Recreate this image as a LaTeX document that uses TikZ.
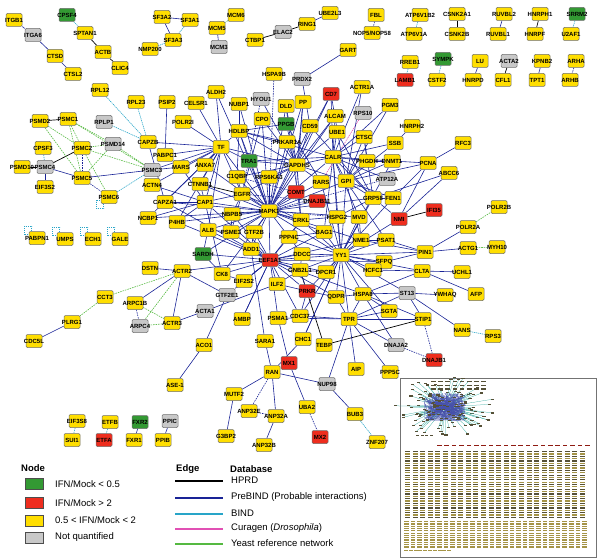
\documentclass[tikz,border=0pt]{standalone}
\usepackage{fontspec}
\setmainfont{Liberation Sans}
\usetikzlibrary{backgrounds}
\definecolor{nyel}{RGB}{255,222,0}
\definecolor{ngrn}{RGB}{51,153,51}
\definecolor{nred}{RGB}{238,45,30}
\definecolor{ngry}{RGB}{200,200,200}
\definecolor{nbrd}{RGB}{110,110,110}
\definecolor{epb}{RGB}{25,35,150}
\definecolor{ebd}{RGB}{40,165,200}
\definecolor{eye}{RGB}{85,185,65}
\definecolor{ecu}{RGB}{225,80,180}
\definecolor{olv}{RGB}{165,148,70}
\definecolor{dkl}{RGB}{85,80,55}
\tikzset{
 nb/.style={draw=nbrd, line width=0.5pt, rounded corners=1.2pt, minimum width=16pt, minimum height=13pt, inner sep=0pt,
   font=\fontsize{6}{6}\selectfont\bfseries,
   execute at begin node={\hbox to 0pt\bgroup\hss}, execute at end node={\hss\egroup}},
 yn/.style={nb, fill=nyel},
 gn/.style={nb, fill=ngrn},
 rn/.style={nb, fill=nred},
 qn/.style={nb, fill=ngry},
 hp/.style={black, line width=0.7pt},
 pb/.style={epb, line width=0.6pt},
 pbd/.style={epb, line width=0.6pt, dash pattern=on 1.5pt off 1pt},
 bd/.style={ebd, line width=0.6pt, dash pattern=on 1.2pt off 0.8pt},
 ye/.style={eye, line width=0.6pt, dash pattern=on 1.5pt off 1pt},
 cu/.style={ecu, line width=0.6pt, dash pattern=on 1.2pt off 0.8pt},
 legbox/.style={draw=nbrd!70!black, line width=0.6pt, minimum width=18pt, minimum height=11pt, inner sep=0pt},
 legtxt/.style={anchor=west, inner sep=0pt, font=\fontsize{9.5}{10}\selectfont},
 leghd/.style={anchor=west, inner sep=0pt, font=\fontsize{9.5}{10}\selectfont\bfseries},
 legln/.style={line width=2pt},
}
\begin{document}
\begin{tikzpicture}[x=1pt,y=-1pt]
\useasboundingbox (0,0) rectangle (600,559);
% ---------------- nodes: top rows ----------------
\node[yn] (itgb1) at (14,20) {ITGB1};
\node[qn] (itga6) at (33,35) {ITGA6};
\node[gn] (cpsf4) at (67,15) {CPSF4};
\node[yn] (sptan1) at (85,33) {SPTAN1};
\node[yn] (actb) at (103,52) {ACTB};
\node[yn] (clic4) at (120,68) {CLIC4};
\node[yn] (ctsd) at (55,56) {CTSD};
\node[yn] (ctsl2) at (73,74) {CTSL2};
\node[yn] (sf3a2) at (162,17) {SF3A2};
\node[yn] (sf3a1) at (190,20) {SF3A1};
\node[yn] (sf3a3) at (173,40) {SF3A3};
\node[yn] (nmp200) at (150,49) {NMP200};
\node[yn] (mcm6) at (236,15) {MCM6};
\node[yn] (mcm5) at (217,28) {MCM5};
\node[qn] (mcm3) at (219,47) {MCM3};
\node[yn] (ctbp1) at (255,40) {CTBP1};
\node[qn] (elac2) at (283,32) {ELAC2};
\node[yn] (ring1) at (307,24) {RING1};
\node[yn] (ube2l3) at (330,13) {UBE2L3};
\node[yn] (fbl) at (376,15) {FBL};
\node[yn] (nop) at (372,33) {NOP5/NOP58};
\node[yn] (gart) at (348,50) {GART};
\node[yn] (atp6v1b2) at (420,15) {ATP6V1B2};
\node[yn] (atp6v1a) at (414,34) {ATP6V1A};
\node[yn] (csnk2a1) at (457,14) {CSNK2A1};
\node[yn] (csnk2b) at (457,34) {CSNK2B};
\node[yn] (ruvbl2) at (504,14) {RUVBL2};
\node[yn] (ruvbl1) at (498,34) {RUVBL1};
\node[yn] (hnrph1) at (540,14) {HNRPH1};
\node[yn] (hnrpf) at (535,34) {HNRPF};
\node[gn] (srrm2) at (577,14) {SRRM2};
\node[yn] (u2af1) at (571,34) {U2AF1};
\node[yn] (rreb1) at (410,62) {RREB1};
\node[rn] (lamb1) at (405,80) {LAMB1};
\node[gn] (sympk) at (443,59) {SYMPK};
\node[yn] (cstf2) at (437,80) {CSTF2};
\node[yn] (lu) at (480,61) {LU};
\node[yn] (hnrpd) at (473,80) {HNRPD};
\node[qn] (acta2) at (509,61) {ACTA2};
\node[yn] (cfl1) at (503,80) {CFL1};
\node[yn] (kpnb2) at (542,61) {KPNB2};
\node[yn] (tpt1) at (537,80) {TPT1};
\node[yn] (arha) at (576,61) {ARHA};
\node[yn] (arhb) at (570,80) {ARHB};
% ---------------- upper middle ----------------
\node[yn] (hspa9b) at (274,74) {HSPA9B};
\node[qn] (prdx2) at (302,79) {PRDX2};
\node[rn] (cd7) at (331,94) {CD7};
\node[yn] (actr1a) at (362,87) {ACTR1A};
\node[yn] (aldh2) at (216,92) {ALDH2};
\node[yn] (nubp1) at (239,104) {NUBP1};
\node[qn] (hyou1) at (261,99) {HYOU1};
\node[yn] (dld) at (286,106) {DLD};
\node[yn] (pp) at (303,102) {PP};
\node[yn] (pgm3) at (390,105) {PGM3};
\node[yn] (cpo) at (262,119) {CPO};
\node[yn] (alcam) at (335,116) {ALCAM};
\node[qn] (rps10) at (363,113) {RPS10};
\node[gn] (ppgb) at (286,124) {PPGB};
\node[yn] (cd59) at (310,126) {CD59};
\node[yn] (hdlbp) at (239,131) {HDLBP};
\node[yn] (ube1) at (337,132) {UBE1};
\node[yn] (ctsc) at (364,137) {CTSC};
\node[yn] (ssb) at (395,143) {SSB};
\node[yn] (prkar1a) at (287,142) {PRKAR1A};
\node[yn] (tf) at (221,147) {TF};
\node[yn] (hnrph2) at (412,126) {HNRPH2};
\node[yn] (rfc3) at (463,143) {RFC3};
% ---------------- left cluster ----------------
\node[yn] (rpl12) at (100,90) {RPL12};
\node[yn] (rpl23) at (136,102) {RPL23};
\node[yn] (psip2) at (167,102) {PSIP2};
\node[yn] (celsr1) at (196,103) {CELSR1};
\node[yn] (polr2i) at (183,122) {POLR2I};
\node[qn] (rplp1) at (104,122) {RPLP1};
\node[yn] (psmc1) at (68,119) {PSMC1};
\node[yn] (psmd2) at (40,121) {PSMD2};
\node[qn] (psmd14) at (113,144) {PSMD14};
\node[yn] (capzb) at (148,142) {CAPZB};
\node[yn] (cpsf3) at (43,148) {CPSF3};
\node[yn] (psmc2) at (82,148) {PSMC2};
\node[yn] (psmd10) at (22,167) {PSMD10};
\node[qn] (psmc4) at (45,167) {PSMC4};
\node[yn] (eif3s2) at (45,187) {EIF3S2};
\node[yn] (psmc5) at (82,178) {PSMC5};
\node[yn] (psmc6) at (109,197) {PSMC6};
\node[qn] (psmc3) at (152,170) {PSMC3};
\node[yn] (pabpc1) at (165,155) {PABPC1};
\node[yn] (mars) at (181,167) {MARS};
\node[yn] (actn4) at (152,185) {ACTN4};
\node[yn] (capza1) at (165,202) {CAPZA1};
\node[yn] (ncbp1) at (148,218) {NCBP1};
\node[yn] (p4hb) at (177,222) {P4HB};
\node[yn] (pabpn1) at (37,238) {PABPN1};
\node[yn] (umps) at (65,239) {UMPS};
\node[yn] (ech1) at (93,239) {ECH1};
\node[yn] (gale) at (120,239) {GALE};
\node[yn] (dstn) at (150,268) {DSTN};
\node[yn] (actr2) at (182,271) {ACTR2};
\node[yn] (cct3) at (105,297) {CCT3};
\node[yn] (plrg1) at (72,322) {PLRG1};
\node[yn] (cdc5l) at (34,341) {CDC5L};
\node[yn] (arpc1b) at (135,303) {ARPC1B};
\node[qn] (arpc4) at (140,326) {ARPC4};
\node[yn] (actr3) at (172,323) {ACTR3};
\node[qn] (acta1) at (205,311) {ACTA1};
\node[yn] (aco1) at (204,345) {ACO1};
\node[yn] (ase1) at (175,385) {ASE-1};
\node[yn] (eif3s8) at (77,421) {EIF3S8};
\node[yn] (sui1) at (72,440) {SUI1};
\node[yn] (etfb) at (110,422) {ETFB};
\node[rn] (etfa) at (104,440) {ETFA};
\node[gn] (fxr2) at (140,422) {FXR2};
\node[yn] (fxr1) at (134,440) {FXR1};
\node[qn] (ppic) at (170,421) {PPIC};
\node[yn] (ppib) at (163,440) {PPIB};
% ---------------- centre ----------------
\node[yn] (anxa7) at (205,165) {ANXA7};
\node[yn] (ctnnb1) at (200,184) {CTNNB1};
\node[gn] (tra1) at (249,161) {TRA1};
\node[yn] (gapdh) at (297,165) {GAPDHS};
\node[yn] (calr) at (333,157) {CALR};
\node[yn] (phgdh) at (367,161) {PHGDH};
\node[yn] (dnmt1) at (392,161) {DNMT1};
\node[yn] (c1qbp) at (237,177) {C1QBP};
\node[yn] (rps6) at (269,177) {RPS6KA3};
\node[yn] (rars) at (321,182) {RARS};
\node[yn] (gpi) at (346,181) {GPI};
\node[qn] (atp12a) at (387,179) {ATP12A};
\node[yn] (egfr) at (242,194) {EGFR};
\node[yn] (cap1) at (205,202) {CAP1};
\node[rn] (comt) at (296,192) {COMT};
\node[rn] (dnajb11) at (317,201) {DNAJB11};
\node[yn] (mapk1) at (269,211) {MAPK1};
\node[yn] (grp58) at (373,198) {GRP58};
\node[yn] (fen1) at (393,198) {FEN1};
\node[yn] (nbpb5) at (232,214) {NBPB5};
\node[yn] (hspg2) at (337,217) {HSPG2};
\node[yn] (mvd) at (359,217) {MVD};
\node[yn] (crkl) at (301,220) {CRKL};
\node[rn] (nmi) at (399,219) {NMI};
\node[rn] (ifi35) at (434,210) {IFI35};
\node[yn] (alb) at (208,230) {ALB};
\node[yn] (psme3) at (231,232) {PSME3};
\node[yn] (gtf2b) at (254,232) {GTF2B};
\node[yn] (bag1) at (324,232) {BAG1};
\node[yn] (ppp4c) at (289,237) {PPP4C};
\node[yn] (nme1) at (361,240) {NME1};
\node[yn] (psat1) at (386,240) {PSAT1};
\node[yn] (add1) at (251,249) {ADD1};
\node[yn] (ddcc) at (302,254) {DDCC};
\node[gn] (sardh) at (203,254) {SARDH};
\node[rn] (eef1a1) at (270,260) {EEF1A1};
\node[yn] (yy1) at (341,255) {YY1};
\node[yn] (sfpq) at (384,262) {SFPQ};
\node[yn] (hcfc1) at (373,270) {HCFC1};
\node[yn] (gnb2l1) at (300,270) {GNB2L1};
\node[yn] (dpcr1) at (326,272) {DPCR1};
\node[yn] (ck8) at (222,274) {CK8};
\node[yn] (eif2s2) at (244,281) {EIF2S2};
\node[yn] (ilf2) at (277,284) {ILF2};
\node[rn] (prkr) at (307,291) {PRKR};
\node[qn] (gtf2e1) at (227,295) {GTF2E1};
\node[yn] (hspa8) at (363,294) {HSPA8};
\node[yn] (qdpr) at (336,297) {QDPR};
% ---------------- right ----------------
\node[yn] (pcna) at (428,163) {PCNA};
\node[yn] (abcc6) at (449,173) {ABCC6};
\node[yn] (polr2b) at (499,207) {POLR2B};
\node[yn] (polr2a) at (468,227) {POLR2A};
\node[yn] (actg1) at (468,248) {ACTG1};
\node[yn] (myh10) at (497,247) {MYH10};
\node[yn] (pin1) at (425,252) {PIN1};
\node[yn] (clta) at (422,271) {CLTA};
\node[yn] (uchl1) at (462,272) {UCHL1};
\node[qn] (st13) at (407,293) {ST13};
\node[yn] (ywhaq) at (445,295) {YWHAQ};
\node[yn] (afp) at (476,294) {AFP};
\node[yn] (stip1) at (423,319) {STIP1};
\node[yn] (nans) at (462,330) {NANS};
\node[yn] (rps3) at (493,336) {RPS3};
\node[qn] (dnaja2) at (396,345) {DNAJA2};
\node[rn] (dnajb1) at (434,360) {DNAJB1};
% ---------------- lower ----------------
\node[yn] (ambp) at (242,319) {AMBP};
\node[yn] (psma1) at (278,318) {PSMA1};
\node[yn] (cdc37) at (300,316) {CDC37};
\node[yn] (tpr) at (349,319) {TPR};
\node[yn] (sgta) at (389,311) {SGTA};
\node[yn] (chc1) at (303,339) {CHC1};
\node[yn] (sara1) at (265,341) {SARA1};
\node[yn] (tebp) at (324,345) {TEBP};
\node[rn] (mx1) at (289,363) {MX1};
\node[yn] (ran) at (272,372) {RAN};
\node[qn] (nup98) at (327,384) {NUP98};
\node[yn] (aip) at (356,369) {AIP};
\node[yn] (ppp5c) at (390,372) {PPP5C};
\node[yn] (mutf2) at (234,394) {MUTF2};
\node[yn] (anp32e) at (249,411) {ANP32E};
\node[yn] (anp32a) at (276,416) {ANP32A};
\node[yn] (uba2) at (307,407) {UBA2};
\node[yn] (bub3) at (355,414) {BUB3};
\node[yn] (g3bp2) at (226,436) {G3BP2};
\node[rn] (mx2) at (320,437) {MX2};
\node[yn] (anp32b) at (264,445) {ANP32B};
\node[yn] (znf207) at (377,442) {ZNF207};
% ---------------- edges ----------------
\begin{pgfonlayer}{background}
\foreach \a/\b in {sptan1/actb, actb/clic4, ctbp1/elac2, elac2/ring1, csnk2a1/csnk2b, hnrph1/hnrpf, acta2/cfl1,
  psmd2/psmc1, psmd10/psmc4, psmc4/psmc2, nmi/ifi35, tebp/stip1, tebp/gnb2l1, ctnnb1/egfr}
  \draw[hp] (\a) -- (\b);
\foreach \a/\b in {cpsf4/sptan1, sf3a1/sf3a3, sf3a3/nmp200, atp6v1b2/atp6v1a, srrm2/u2af1, rreb1/lamb1, sympk/cstf2,
  rpl12/capzb, rpl23/capzb, rplp1/capzb, psmc3/psmc6, cpsf3/psmc4, nans/rps3, bub3/znf207, eif3s8/sui1, etfb/etfa}
  \draw[bd] (\a) -- (\b);
\foreach \a/\b in {mcm6/mcm5, psmd2/psmc2, psmd2/psmc5, psmc1/psmc2, psmc1/psmd14, psmc1/psmc5, psmc2/psmd14, psmc2/psmc6,
  psmd14/psmc3, psmd14/psmc5, psmc2/psmc3, psmc1/psmc3, actr2/cct3, cct3/plrg1, arpc1b/actr3, arpc4/actr3, actr2/arpc4,
  polr2a/polr2b, actg1/myh10}
  \draw[ye] (\a) -- (\b);
\foreach \a/\b in {fbl/nop, arha/arhb, hspa9b/mapk1, hyou1/egfr, psmc5/psmc6, psmc2/psmc5, arpc1b/arpc4, uba2/mx2,
  ran/anp32e, anp32e/anp32a, stip1/dnajb1, dnaja2/dnajb1, mapk1/atp12a, egfr/dnajb11, mapk1/hspg2, c1qbp/comt}
  \draw[pbd] (\a) -- (\b);
\draw[cu] (rps10) -- (rars);
\foreach \a/\b in {itgb1/itga6, itga6/ctsd, ctsd/ctsl2, sf3a2/sf3a1, sf3a2/sf3a3, mcm5/mcm3, ring1/ube2l3, ruvbl2/ruvbl1,
  lu/hnrpd, kpnb2/tpt1, fxr2/fxr1, ppic/ppib, prdx2/gart, psip2/pabpc1, psmc4/eif3s2, psmc4/psmc5, psmc5/psmc3,
  psmc3/mars, psmc3/tf, capzb/capza1, capzb/tf, dstn/actr2, plrg1/cdc5l, actr2/arpc1b, actr2/actr3, actr3/acta1,
  actr2/eef1a1, actr2/gtf2e1, aco1/ase1, aco1/gtf2e1, acta1/ilf2, polr2a/pin1, actg1/pin1, clta/uchl1, clta/afp,
  st13/ywhaq, st13/stip1, st13/nans, pcna/rfc3, pcna/dnmt1, pcna/fen1, pcna/nmi, pcna/gpi, abcc6/grp58, abcc6/nmi,
  hnrph2/ssb, nubp1/hdlbp, aldh2/tf, polr2i/tf, celsr1/tf, prdx2/cd59}
  \draw[pb] (\a) -- (\b);
\foreach \b in {pabpc1, mars, actn4, capza1, ncbp1, egfr, mapk1, hdlbp, anxa7, ctnnb1, cap1, alb, p4hb, tra1, gapdh}
  \draw[pb] (tf) -- (\b);
\foreach \b in {egfr, c1qbp, hdlbp, nubp1, cpo, dld, pp, cd59, gapdh, calr, rars, gpi, comt, dnajb11, crkl, mvd, grp58,
  bag1, ppp4c, psme3, gtf2b, nbpb5, alb, cap1, eef1a1, yy1, ctnnb1, p4hb, add1, tra1, rps6, alcam, ck8, cd7, prkar1a,
  ncbp1, capza1, anxa7, aldh2, sardh, nme1}
  \draw[pb] (mapk1) -- (\b);
\foreach \b in {sardh, alb, ck8, eif2s2, gtf2e1, ambp, psma1, ilf2, prkr, gnb2l1, yy1, ddcc, ppp4c, add1, gtf2b, psme3,
  cap1, capza1, sfpq, hspa8, cdc37, nme1, qdpr, nbpb5, crkl, bag1, p4hb, dpcr1}
  \draw[pb] (eef1a1) -- (\b);
\foreach \b in {nme1, psat1, sfpq, hcfc1, hspa8, tpr, dpcr1, bag1, gpi, calr, pin1, clta, grp58, mvd, qdpr, prkr, crkl,
  gnb2l1, hspg2, dnmt1, fen1, st13, chc1, cdc37, ddcc, sgta, rars, nmi, ppp4c}
  \draw[pb] (yy1) -- (\b);
\foreach \b in {prkar1a, cd59, dld, pp, cd7, alcam, hyou1, hdlbp, rars, gpi, calr, tra1, ube1, egfr, c1qbp, rps6, cpo,
  ppgb, crkl}
  \draw[pb] (gapdh) -- (\b);
\foreach \b in {cd7, alcam, ube1, ctsc, actr1a, gpi, grp58, hspg2, tra1, pgm3, ssb, phgdh, atp12a, dnmt1, hdlbp, bag1, mvd}
  \draw[pb] (calr) -- (\b);
\foreach \b in {phgdh, dnmt1, grp58, ctsc, ssb, cd7, actr1a, pgm3, fen1, nme1, psat1}
  \draw[pb] (gpi) -- (\b);
\foreach \a/\b in {hdlbp/prkar1a, hdlbp/tra1, hdlbp/c1qbp, hdlbp/ppgb, egfr/crkl, egfr/c1qbp, egfr/cap1, egfr/nbpb5,
  egfr/psme3, cpo/egfr, dld/crkl, pp/comt, cd59/grp58, ppgb/rars, ube1/grp58, ctsc/grp58, ctsc/phgdh, grp58/fen1,
  grp58/hspg2, grp58/nmi, phgdh/dnmt1, hspg2/bag1, hspg2/crkl, bag1/ppp4c, crkl/ppp4c, mvd/nme1, nme1/psat1, pin1/nme1,
  clta/hcfc1, clta/hspa8, st13/hspa8, st13/tpr, hspa8/stip1, hspa8/sgta, hspa8/dnaja2, hspa8/qdpr, sfpq/hcfc1, sfpq/pin1,
  psat1/pin1, tpr/nup98, tpr/aip, tpr/ppp5c, tpr/cdc37, tpr/sgta, tpr/stip1, tpr/dnaja2, tpr/hspa8, tpr/qdpr, tpr/psma1,
  qdpr/prkr, prkr/gnb2l1, prkr/ilf2, prkr/cdc37, ran/mutf2, mutf2/g3bp2, ran/anp32a, anp32a/anp32b, ran/nup98,
  ran/sara1, ran/chc1, mx1/uba2, psma1/mx1, nup98/bub3, sara1/add1, ambp/eef1a1, chc1/yy1, ck8/eif2s2, alb/sardh,
  eif2s2/eef1a1, add1/gtf2b, ilf2/gnb2l1, ddcc/gnb2l1, dpcr1/gnb2l1, ppp4c/ddcc, nbpb5/psme3, alb/psme3, cap1/ck8,
  capza1/cap1, actn4/cap1, ncbp1/cap1, p4hb/cap1, mars/cap1, ctnnb1/cap1, sardh/ck8}
  \draw[pb] (\a) -- (\b);
% self loops
\foreach \n in {pabpn1, umps, ech1, gale}
  \draw[bd] ([xshift=3pt]\n.north west) -- ++(0,-5) -- ++(-7,0) -- ++(0,8) -- ++(4,0);
\draw[bd] ([xshift=3pt]psmc6.south west) -- ++(0,5) -- ++(-7,0) -- ++(0,-8) -- ++(4,0);
\end{pgfonlayer}
% ---------------- legend ----------------
\node[leghd] (lhn) at (21,468) {Node};
\node[legbox, fill=ngrn] (lb1) at (34,483.5) {};
\node[legbox, fill=nred] (lb2) at (34,503) {};
\node[legbox, fill=nyel] (lb3) at (34,520.5) {};
\node[legbox, fill=ngry] (lb4) at (34,537.5) {};
\node[legtxt] (lt1) at (55,484) {IFN/Mock < 0.5};
\node[legtxt] (lt2) at (55,503) {IFN/Mock > 2};
\node[legtxt] (lt3) at (55,520.5) {0.5 < IFN/Mock < 2};
\node[legtxt] (lt4) at (55,537.5) {Not quantified};
\node[leghd] (lhe) at (176,469.5) {Edge};
\node[leghd] (lhd) at (230,469.5) {Database};
\coordinate (l1a) at (175,481); \coordinate (l1b) at (223,481);
\coordinate (l2a) at (175,498); \coordinate (l2b) at (223,498);
\coordinate (l3a) at (175,514); \coordinate (l3b) at (223,514);
\coordinate (l4a) at (175,529); \coordinate (l4b) at (223,529);
\coordinate (l5a) at (175,544); \coordinate (l5b) at (223,544);
\draw[legln, black] (l1a) -- (l1b);
\draw[legln, epb] (l2a) -- (l2b);
\draw[legln, ebd] (l3a) -- (l3b);
\draw[legln, ecu] (l4a) -- (l4b);
\draw[legln, eye] (l5a) -- (l5b);
\node[legtxt] (d1) at (231,480.5) {HPRD};
\node[legtxt] (d2) at (231,497) {PreBIND (Probable interactions)};
\node[legtxt] (d3) at (231,513) {BIND};
\node[legtxt] (d4) at (231,528.5) {Curagen (\textit{Drosophila})};
\node[legtxt] (d5) at (231,543.5) {Yeast reference network};
% ---------------- inset ----------------
\draw[black!55, line width=0.8pt] (400,378) rectangle (596,557);
\pgfmathsetseed{7}
\foreach \i in {1,...,80}{
  \pgfmathsetmacro{\ang}{360*rnd}
  \pgfmathsetmacro{\rad}{20+24*rnd}
  \pgfmathsetmacro{\px}{445+1.15*\rad*cos(\ang)}
  \pgfmathsetmacro{\py}{407+0.7*\rad*sin(\ang)}
  \draw[ebd!70!eye, line width=0.25pt] (445,407) -- (\px,\py);
  \fill[dkl] (\px-1.6,\py-0.6) rectangle ++(3.2,1.2);
}
\foreach \i in {1,...,220}{
  \pgfmathsetmacro{\xa}{445+21*rand}
  \pgfmathsetmacro{\ya}{407+14*rand}
  \pgfmathsetmacro{\xb}{445+21*rand}
  \pgfmathsetmacro{\yb}{407+14*rand}
  \draw[epb!80, line width=0.25pt] (\xa,\ya) -- (\xb,\yb);
}
\foreach \i in {1,...,60}{
  \pgfmathsetmacro{\xa}{445+22*rand}
  \pgfmathsetmacro{\ya}{407+15*rand}
  \fill[dkl] (\xa-1.5,\ya-0.6) rectangle ++(3,1.2);
}
\foreach \c in {0,...,7} \foreach \r in {0,...,2}
  \fill[dkl] (431+7.2*\c,381+3.6*\r) rectangle ++(4.5,1.3);
\foreach \c in {0,...,3}
  \fill[dkl] (416+4.5*\c,435) rectangle ++(3.2,1.3);
\foreach \c in {0,...,20}
  \fill[nred!60!black] (437+7.4*\c,445) rectangle ++(4.5,1.3);
\foreach \r in {0,...,28} {
  \pgfmathtruncatemacro{\rm}{mod(\r,2)}
  \ifnum\rm=0 \def\rc{dkl}\else\def\rc{olv}\fi
  \foreach \c in {0,...,23}
    \fill[\rc] (405+7.6*\c,451+2.35*\r) rectangle ++(5,1.2);
}
\foreach \r in {0,...,11}
  \foreach \c in {0,...,27}
    \fill[olv] (404+6.6*\c,521+2.3*\r) rectangle ++(4.6,1.2);
\foreach \c in {0,...,9}
  \fill[olv] (404+4.8*\c,549.5) rectangle ++(4,1.2);
\end{tikzpicture}
\end{document}
